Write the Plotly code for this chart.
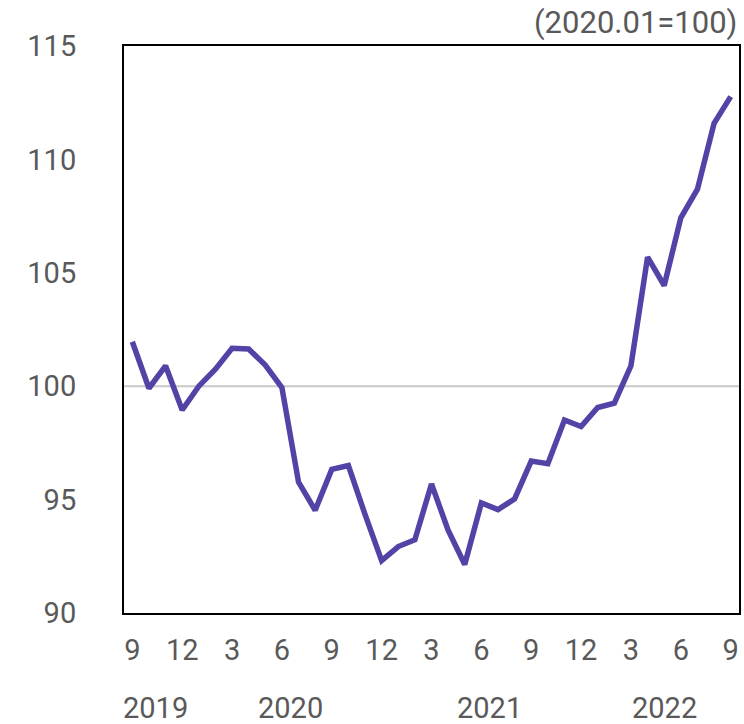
import plotly.graph_objects as go

months = ["2019-09","2019-10","2019-11","2019-12",
          "2020-01","2020-02","2020-03","2020-04","2020-05","2020-06","2020-07","2020-08","2020-09","2020-10","2020-11","2020-12",
          "2021-01","2021-02","2021-03","2021-04","2021-05","2021-06","2021-07","2021-08","2021-09","2021-10","2021-11","2021-12",
          "2022-01","2022-02","2022-03","2022-04","2022-05","2022-06","2022-07","2022-08","2022-09"]
values = [101.96, 99.91, 100.90, 98.95,
          100.0, 100.75, 101.67, 101.64, 100.93, 99.94, 95.77, 94.53, 96.33, 96.50, 94.35, 92.31,
          92.93, 93.23, 95.69, 93.65, 92.14, 94.85, 94.56, 95.03, 96.70, 96.58, 98.51, 98.22,
          99.06, 99.25, 100.90, 105.69, 104.44, 107.42, 108.69, 111.59, 112.77]
x_tick_labels = [m.split("-")[1].lstrip("0") for m in months]
year_labels = ["2019", "2020", "2021", "2022"]
year_positions = [1.4, 9.5, 21.5, 32.0]
y_ticks = [90, 95, 100, 105, 110, 115]
base_note = "(2020.01=100)"

idx = list(range(len(months)))
font_color = "#595959"
fam = "Roboto"

fig = go.Figure()
fig.add_trace(go.Scatter(x=idx, y=values, mode="lines",
                         line=dict(color="#5243A6", width=5.5), hoverinfo="skip"))

fig.add_shape(type="line", xref="paper", yref="y", x0=0, x1=1, y0=100, y1=100,
              line=dict(color="#C8C8C8", width=2), layer="below")

for yl, xp in zip(year_labels, year_positions):
    fig.add_annotation(x=xp, y=0, xref="x", yref="paper", yanchor="middle",
                       yshift=-95, text=yl, showarrow=False,
                       font=dict(size=29, color=font_color, family=fam))

fig.add_annotation(x=1, y=1, xref="paper", yref="paper", xanchor="right",
                   yanchor="middle", yshift=24, xshift=0, text=base_note, showarrow=False,
                   font=dict(size=31, color=font_color, family=fam))

fig.update_layout(
    width=744, height=724,
    margin=dict(l=124, r=3, t=46, b=111),
    paper_bgcolor="white", plot_bgcolor="white",
    showlegend=False,
    font=dict(family=fam, color=font_color, size=29),
    xaxis=dict(range=[-0.5, 36.5], tickmode="array",
               tickvals=idx[::3], ticktext=x_tick_labels[::3],
               showgrid=False, zeroline=False, ticks="",
               showline=True, linecolor="black", linewidth=2, mirror=True,
               ticklabelstandoff=10, tickfont=dict(size=29, color=font_color)),
    yaxis=dict(range=[90, 115], tickmode="array", tickvals=y_ticks,
               showgrid=False, zeroline=False, ticks="",
               showline=True, linecolor="black", linewidth=2, mirror=True,
               ticklabelstandoff=40, tickfont=dict(size=29, color=font_color)),
)

fig.write_html("out.html")
